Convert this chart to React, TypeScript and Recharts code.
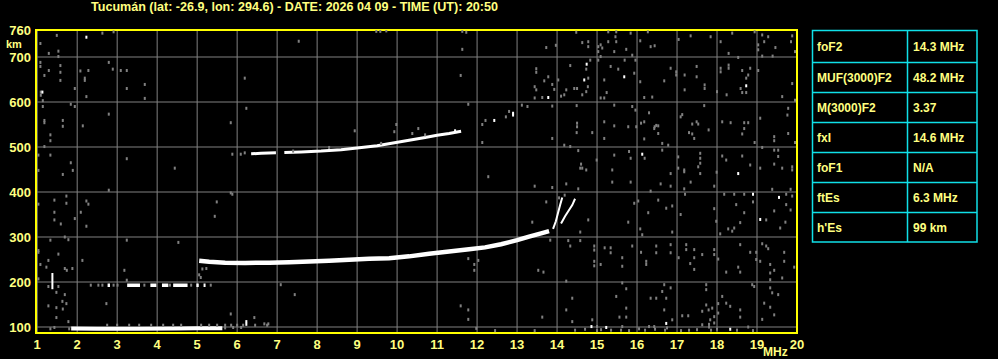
import {
  CartesianGrid,
  ComposedChart,
  Line,
  ReferenceArea,
  Scatter,
  XAxis,
  YAxis,
} from "recharts";

type Pt = [number, number | null];

const TITLE = "Tucumán (lat: -26.9, lon: 294.6) - DATE: 2026 04 09 - TIME (UT): 20:50";

const freqTicks = [1, 2, 3, 4, 5, 6, 7, 8, 9, 10, 11, 12, 13, 14, 15, 16, 17, 18, 19, 20];
const heightTicks = [100, 200, 300, 400, 500, 600, 700, 760];

const paramNames = ["foF2", "MUF(3000)F2", "M(3000)F2", "fxI", "foF1", "ftEs", "h'Es"];
const paramValues = ["14.3 MHz", "48.2 MHz", "3.37", "14.6 MHz", "N/A", "6.3 MHz", "99 km"];

// echo traces (MHz, km)
const eTrace: Pt[] = [[1.85, 96.5], [2.5, 96], [3.5, 96], [4.5, 96.5], [5.0, 97], [5.63, 97.5]];
const esSecondHop: Pt[] = [
  [2.76, 193], [2.82, 193], [2.9, null], [3.25, 193], [3.57, 193], [3.7, null], [3.83, 193], [3.98, 193], [4.05, null],
  [4.12, 193], [4.28, 193], [4.33, null], [4.4, 193], [4.76, 193], [4.85, null], [4.98, 193], [5.04, 193], [5.1, null],
  [5.16, 193], [5.21, 193],
];
const fTrace: Pt[] = [
  [5.05, 247], [5.3, 245], [5.7, 243], [6.2, 242.5], [6.8, 243], [7.3, 244], [7.8, 245.5], [8.3, 247.5], [8.8, 249.5],
  [9.3, 251.5], [9.8, 253], [10.3, 257], [10.8, 263], [11.3, 268], [11.8, 273], [12.2, 277], [12.6, 284], [13.0, 293],
  [13.3, 301], [13.6, 308], [13.8, 313],
];
const oCusp: Pt[] = [[13.9, 318], [13.97, 335], [14.02, 352], [14.08, 372], [14.13, 388]];
const xCusp: Pt[] = [[14.1, 330], [14.2, 346], [14.3, 360], [14.38, 371], [14.45, 385]];
const fSecondHop: Pt[] = [
  [6.35, 485], [6.6, 486], [6.97, 487], [7.08, null], [7.18, 488], [7.6, 489], [8.1, 491], [8.6, 494], [9.0, 498],
  [9.5, 503], [9.9, 509], [10.3, 515], [10.7, 521], [11.0, 526], [11.3, 530], [11.6, 535],
];
const spike: Pt[] = [[1.38, 184], [1.38, 220]];

const whiteDots: Pt[] = [
  [2.23, 744], [1.13, 622], [12.43, 559], [12.9, 575], [13.78, 610], [14.74, 684], [14.68, 649], [15.68, 656],
  [16.13, 484], [18.73, 636], [18.53, 441], [18.9, 395], [19.55, 388], [19.08, 339], [16.73, 108], [14.86, 101],
  [15.23, 99], [18.33, 95], [6.23, 112], [6.23, 106], [12.9, 571], [11.45, 536],
];

const grayDots: Pt[] = [
  [1.49, 748], [2.63, 753], [2.91, 756], [1.08, 730], [1.29, 708], [1.53, 713], [1.53, 701], [1.08, 688], [1.08, 679],
  [1.29, 670], [1.58, 681], [1.58, 666], [1.58, 648], [1.18, 659], [2.08, 669], [2.19, 653], [2.19, 648], [2.28, 670],
  [2.79, 688], [2.89, 673], [3.09, 670], [3.24, 670], [1.94, 630], [1.09, 615], [1.09, 622], [3.24, 630], [3.69, 639],
  [2.23, 612], [3.69, 608], [1.14, 603], [1.14, 590], [1.84, 595], [1.94, 590], [2.79, 573], [1.18, 559], [1.18, 554],
  [1.64, 559], [1.64, 546], [2.14, 547], [1.33, 527], [1.33, 514], [1.18, 501], [1.03, 482], [1.33, 482], [3.24, 474],
  [1.84, 465], [1.03, 448], [1.64, 439], [1.89, 448], [4.44, 453], [6.19, 653], [7.54, 735], [6.23, 586], [5.84, 554],
  [8.94, 536], [9.48, 757], [9.58, 757], [9.73, 758], [9.98, 550], [9.93, 534], [10.38, 530], [10.53, 541],
  [5.88, 484], [6.09, 484], [6.19, 487], [7.4, 491], [8.3, 499], [9.6, 508], [10.7, 527],
  [11.63, 757], [11.73, 755], [11.63, 717], [11.59, 659], [11.78, 595], [12.13, 510], [12.28, 434], [12.13, 550],
  [12.21, 559], [12.72, 567], [12.8, 579], [13.12, 593], [13.26, 590], [13.48, 674], [13.48, 666], [13.44, 634],
  [13.48, 627], [13.44, 609], [13.63, 610], [13.68, 647], [13.78, 656], [13.73, 721], [13.88, 639], [13.93, 628],
  [13.88, 591], [13.88, 519], [14.1, 613], [14.18, 616], [14.03, 649], [13.97, 726], [14.23, 627], [14.33, 681],
  [14.43, 630], [14.5, 630], [14.48, 755], [14.63, 732], [14.78, 734], [14.78, 723], [14.73, 673], [14.78, 653],
  [14.77, 634], [14.73, 623], [14.83, 693], [14.63, 616], [14.49, 592], [14.5, 553], [14.5, 545], [14.49, 532],
  [14.88, 532], [14.18, 504], [14.33, 501], [14.53, 492], [14.63, 453], [14.73, 449], [15.03, 723], [15.09, 727],
  [15.03, 712], [15.03, 693], [15.13, 720], [15.09, 701], [15.28, 756], [15.48, 756], [15.28, 734], [15.46, 745],
  [15.48, 734], [15.43, 712], [15.73, 717], [15.84, 753], [15.18, 649], [15.24, 621], [15.09, 609], [15.18, 609],
  [15.34, 679], [15.53, 673], [15.69, 693], [15.93, 664], [15.96, 693], [15.88, 704], [15.43, 593], [15.18, 556],
  [15.43, 547], [15.18, 519], [15.78, 545], [15.88, 590], [15.96, 582], [15.98, 545], [15.8, 490], [15.84, 475],
  [15.43, 482], [14.99, 471], [14.6, 462], [14.58, 453], [15.38, 449], [16.19, 475], [16.08, 645], [16.18, 610],
  [16.38, 611], [16.08, 736], [16.27, 756], [16.34, 723], [16.44, 725], [16.1, 553], [16.18, 556], [16.3, 576],
  [16.44, 545], [16.53, 547], [16.53, 530], [16.63, 508], [16.78, 504], [16.63, 493], [16.68, 647], [16.84, 675],
  [16.98, 667], [16.98, 660], [17.04, 739], [17.19, 660], [17.19, 627], [17.34, 747], [17.49, 679], [17.49, 656],
  [17.69, 638], [17.69, 630], [17.68, 592], [17.13, 572], [17.09, 567], [17.38, 551], [17.49, 556], [17.53, 551],
  [17.3, 532], [17.38, 529], [17.43, 519], [17.03, 478], [17.03, 453], [17.18, 449], [17.58, 486], [17.58, 475],
  [17.58, 464], [17.58, 441], [17.53, 456], [16.84, 441], [17.84, 745], [18.0, 623], [18.09, 675], [18.09, 667],
  [18.29, 682], [18.29, 675], [18.24, 616], [18.38, 753], [18.29, 708], [18.09, 734], [18.53, 699], [18.63, 670],
  [18.59, 630], [18.73, 653], [18.78, 660], [18.83, 675], [18.63, 621], [18.73, 621], [18.94, 756], [19.03, 727],
  [19.03, 716], [19.13, 749], [19.28, 745], [19.18, 734], [19.46, 721], [19.13, 702], [19.03, 670], [19.39, 702],
  [19.63, 612], [19.88, 747], [19.95, 712], [19.85, 734], [19.88, 641], [19.95, 604], [18.13, 556], [18.34, 554],
  [18.68, 554], [18.78, 554], [18.68, 541], [18.63, 529], [19.08, 564], [19.78, 586], [19.76, 571], [19.78, 530],
  [19.43, 523], [19.43, 514], [18.94, 510], [19.13, 499], [19.95, 510], [19.43, 493], [19.53, 493], [19.53, 479],
  [19.43, 462], [19.63, 453], [19.88, 456], [19.88, 449], [18.83, 460], [18.63, 480], [19.08, 453], [18.13, 480],
  [18.23, 471], [17.99, 444], [17.79, 538], [17.18, 445], [16.48, 548], [16.43, 541], [16.18, 518],
  [2.79, 404], [1.73, 391], [1.73, 375], [1.03, 373], [1.43, 382], [2.23, 380], [2.28, 373], [1.43, 355], [2.09, 355],
  [1.43, 338], [1.59, 329], [1.94, 341], [2.23, 324], [1.69, 300], [1.78, 294], [1.33, 293], [3.24, 293], [4.53, 288],
  [1.03, 270], [1.03, 266], [1.53, 262], [1.28, 248], [2.13, 248], [1.08, 239], [1.23, 233], [1.69, 230], [1.74, 226],
  [1.88, 230], [1.28, 190], [1.53, 190], [3.18, 226], [3.24, 204], [1.03, 207], [1.48, 177], [1.69, 172], [1.28, 147],
  [1.48, 143], [1.63, 157], [1.73, 152], [1.64, 140], [1.48, 121], [1.78, 112], [2.73, 152], [1.33, 96], [1.43, 99],
  [5.84, 398], [5.88, 395], [5.49, 378], [5.44, 346], [5.13, 229], [5.23, 230], [5.05, 216], [5.09, 210], [7.09, 194],
  [7.44, 172], [5.84, 129], [6.43, 121], [6.68, 107], [6.78, 107],
  [2.34, 193], [2.53, 193], [2.63, 193], [2.91, 193], [3.01, 193], [3.68, 193], [4.32, 193], [4.85, 193], [5.34, 193],
  [2.75, 104], [3.0, 104], [3.3, 104], [3.55, 104], [3.85, 104], [4.15, 104], [4.4, 104], [4.6, 104], [5.1, 104],
  [5.3, 104], [5.5, 104], [5.7, 104], [5.85, 104], [6.0, 104], [6.15, 104], [6.45, 104], [6.75, 104], [5.7, 98],
  [5.9, 99], [6.1, 99], [1.8, 96],
  [13.44, 413], [13.88, 410], [14.23, 418], [14.53, 407], [14.19, 393], [14.05, 387], [13.73, 378], [15.38, 422],
  [15.84, 422], [16.59, 418], [16.84, 413], [16.34, 402], [16.03, 380], [15.93, 375], [16.53, 382], [16.88, 369],
  [16.73, 364], [16.28, 354], [17.09, 350], [17.2, 395], [17.18, 407], [17.34, 422], [17.93, 413], [17.93, 363],
  [18.18, 395], [18.43, 395], [18.68, 395], [18.48, 372], [18.9, 378], [19.38, 406], [19.73, 395], [19.84, 406],
  [19.88, 391], [19.84, 360], [19.43, 358], [19.73, 372], [18.68, 354], [18.58, 332], [19.23, 338], [18.43, 320],
  [18.28, 318], [18.38, 313], [18.08, 307], [17.98, 335], [19.58, 320], [19.71, 333], [14.78, 338], [14.58, 311],
  [13.83, 293], [15.78, 333], [16.08, 318], [16.13, 305], [16.88, 311], [14.28, 292], [14.58, 292], [14.33, 280],
  [14.93, 280], [14.93, 271], [14.93, 246], [14.93, 236], [15.19, 276], [15.34, 276], [15.34, 265], [15.09, 239],
  [15.63, 254], [15.63, 235], [15.88, 280], [16.1, 266], [16.23, 246], [16.23, 239], [16.48, 280], [16.48, 265],
  [16.84, 283], [16.84, 265], [17.04, 254], [17.23, 283], [17.23, 272], [17.43, 272], [17.43, 254], [17.33, 241],
  [17.43, 228], [17.63, 261], [17.93, 272], [17.93, 261], [18.03, 251], [18.23, 222], [18.53, 233], [18.58, 222],
  [18.58, 283], [18.83, 266], [18.98, 266], [18.98, 250], [19.08, 246], [19.13, 285], [19.23, 280], [19.28, 274],
  [19.33, 239], [19.33, 220], [19.33, 205], [19.43, 226], [19.68, 266], [19.68, 246], [19.63, 209], [19.93, 233],
  [18.88, 194], [18.93, 190], [19.33, 187], [19.38, 176], [19.53, 172], [19.18, 153], [19.33, 144], [19.13, 117],
  [19.43, 127], [18.78, 100], [18.58, 138], [18.58, 122], [18.33, 146], [18.23, 153], [18.13, 168], [18.03, 152],
  [18.03, 131], [17.88, 142], [17.93, 123], [17.93, 109], [17.83, 116], [17.73, 194], [17.73, 183], [17.73, 149],
  [17.79, 138], [17.63, 135], [17.63, 105], [17.28, 125], [17.13, 125], [16.88, 116], [16.68, 138], [16.63, 179],
  [16.73, 164], [16.84, 187], [16.68, 194], [16.48, 164], [16.34, 164], [16.3, 101], [16.43, 101], [15.73, 142],
  [15.73, 122], [15.63, 198], [15.73, 185], [15.48, 168], [15.56, 122], [15.63, 101], [14.38, 164], [14.23, 138],
  [14.38, 112], [14.23, 202], [14.88, 116], [13.63, 122], [13.44, 92], [11.78, 138], [11.78, 117], [11.59, 147],
  [11.98, 97], [13.53, 226], [13.66, 222], [11.93, 239], [11.93, 226], [12.03, 248], [11.78, 252], [13.38, 333],
  [14.45, 93], [14.7, 95], [15.0, 92], [15.1, 94], [15.35, 93], [15.6, 93], [15.8, 92], [16.2, 93], [16.45, 95],
  [16.7, 93], [17.1, 92], [17.3, 93], [17.5, 94], [17.85, 93], [18.0, 95], [18.5, 93], [18.9, 92], [12.45, 92],
  [17.8, 100], [17.8, 106], [16.75, 98], [15.0, 101], [16.05, 96],
];

const W = 998;
const H = 359;
const X_DOMAIN: [number, number] = [0.97, 20];
const Y_DOMAIN: [number, number] = [86.7, 760];
const YELLOW = "#ffff00";
const LABEL = "#ffff80";
const GRID = "#808080";
const CYAN = "#10e0e8";
const FONT = "'Liberation Sans', Arial, sans-serif";

const toRows = (pts: Pt[]) => pts.map(([f, h]) => ({ f, h }));

function dot(color: string) {
  return (p: any) =>
    p.cx == null ? <g /> : <rect x={p.cx - 1} y={p.cy - 1.5} width={2} height={3} fill={color} />;
}

function XTick({ x, payload }: any) {
  return (
    <text x={x} y={349} textAnchor="middle" fill={LABEL} fontSize={13} fontWeight="bold" fontFamily={FONT}>
      {payload.value}
    </text>
  );
}

function YTick({ y, payload }: any) {
  return (
    <text x={31} y={y + 4.5} textAnchor="end" fill={LABEL} fontSize={13} fontWeight="bold" fontFamily={FONT}>
      {payload.value}
    </text>
  );
}

function trace(pts: Pt[], width: number, key: string) {
  return (
    <Line
      key={key}
      data={toRows(pts)}
      dataKey="h"
      stroke="#ffffff"
      strokeWidth={width}
      dot={false}
      activeDot={false}
      isAnimationActive={false}
      type="linear"
    />
  );
}

const rowEdges = [30, 62, 92, 122, 152, 182, 212, 242];

export default function App() {
  return (
    <div style={{ position: "absolute", left: 0, top: 0, width: W, height: H, background: "#000", overflow: "hidden" }}>
      <svg width={W} height={24} style={{ position: "absolute", left: 0, top: 0 }}>
        <text
          x={91}
          y={11}
          textLength={407}
          lengthAdjust="spacingAndGlyphs"
          fill={LABEL}
          fontSize={12}
          fontWeight="bold"
          fontFamily={FONT}
        >
          {TITLE}
        </text>
      </svg>

      <ComposedChart width={W} height={H} margin={{ top: 30, right: 201, left: 0, bottom: 0 }}>
        <CartesianGrid stroke={GRID} strokeWidth={1} horizontal vertical />
        <XAxis
          dataKey="f"
          type="number"
          domain={X_DOMAIN}
          allowDataOverflow
          ticks={freqTicks}
          tick={<XTick />}
          tickLine={false}
          axisLine={false}
          height={26}
          interval={0}
        />
        <YAxis
          dataKey="h"
          type="number"
          domain={Y_DOMAIN}
          allowDataOverflow
          ticks={heightTicks}
          tick={<YTick />}
          tickLine={false}
          axisLine={false}
          width={36}
          interval={0}
        />
        <Scatter data={toRows(grayDots)} shape={dot(GRID)} isAnimationActive={false} />
        <Scatter data={toRows(whiteDots)} shape={dot("#ffffff")} isAnimationActive={false} />
        {trace(eTrace, 4, "e")}
        {trace(esSecondHop, 3.5, "es2")}
        {trace(fTrace, 4.5, "f")}
        {trace(oCusp, 2, "o")}
        {trace(xCusp, 2, "x")}
        {trace(fSecondHop, 3, "f2")}
        {trace(spike, 2, "spike")}
        <ReferenceArea
          x1={X_DOMAIN[0]}
          x2={X_DOMAIN[1]}
          y1={Y_DOMAIN[0]}
          y2={Y_DOMAIN[1]}
          fill="none"
          stroke={YELLOW}
          strokeWidth={2}
          ifOverflow="visible"
        />
      </ComposedChart>

      <svg width={W} height={H} style={{ position: "absolute", left: 0, top: 0, pointerEvents: "none" }}>
        <text x={6} y={47.5} fill={LABEL} fontSize={11} fontWeight="bold" fontFamily={FONT}>
          km
        </text>
        <text x={763} y={356} fill={LABEL} fontSize={12} fontWeight="bold" fontFamily={FONT}>
          MHz
        </text>
        <rect x={812.5} y={30.5} width={164.5} height={211.5} fill="none" stroke={CYAN} strokeWidth={1.5} />
        {rowEdges.slice(1, -1).map((y) => (
          <line key={y} x1={812} x2={977} y1={y + 0.5} y2={y + 0.5} stroke={CYAN} strokeWidth={1.5} />
        ))}
        <line x1={907.5} x2={907.5} y1={30} y2={242} stroke={CYAN} strokeWidth={1.5} />
        {paramNames.map((name, i) => {
          const cy = (rowEdges[i] + rowEdges[i + 1]) / 2 + 4.5;
          return (
            <g key={name}>
              <text x={817} y={cy} fill={LABEL} fontSize={12} fontWeight="bold" fontFamily={FONT}>
                {name}
              </text>
              <text x={913} y={cy} fill={LABEL} fontSize={12} fontWeight="bold" fontFamily={FONT}>
                {paramValues[i]}
              </text>
            </g>
          );
        })}
      </svg>
    </div>
  );
}
